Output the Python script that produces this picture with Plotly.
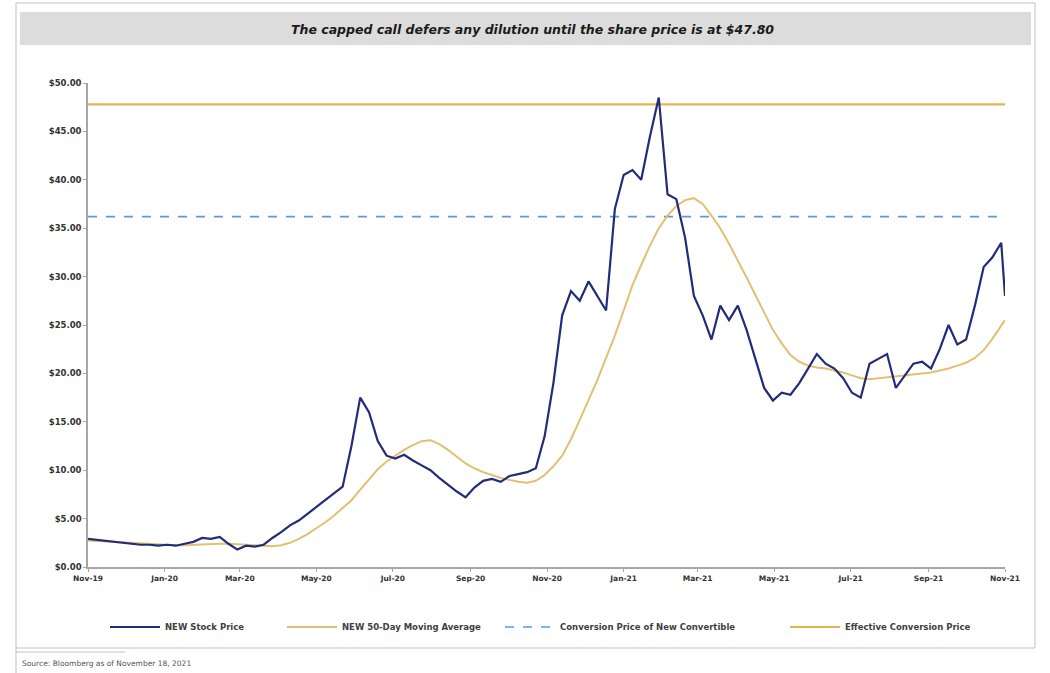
import pandas as pd
import plotly.graph_objects as go

# ---------------- data ----------------
week_dates = list(pd.date_range("2019-11-18", periods=105, freq="7D")) + [pd.Timestamp("2021-11-18")]

stock_price = [2.9, 2.8, 2.7, 2.6, 2.5, 2.4, 2.3, 2.3, 2.2, 2.3,
               2.2, 2.4, 2.6, 3.0, 2.9, 3.1, 2.4, 1.8, 2.2, 2.1,
               2.3, 3.0, 3.6, 4.3, 4.8, 5.5, 6.2, 6.9, 7.6, 8.3,
               12.5, 17.5, 16.0, 13.0, 11.5, 11.2, 11.6, 11.0, 10.5, 10.0,
               9.2, 8.5, 7.8, 7.2, 8.2, 8.9, 9.1, 8.8, 9.4, 9.6,
               9.8, 10.2, 13.5, 19.0, 26.0, 28.5, 27.5, 29.5, 28.0, 26.5,
               37.0, 40.5, 41.0, 40.0, 44.5, 48.5, 38.5, 38.0, 34.0, 28.0,
               26.0, 23.5, 27.0, 25.5, 27.0, 24.5, 21.5, 18.5, 17.2, 18.0,
               17.8, 19.0, 20.5, 22.0, 21.0, 20.5, 19.5, 18.0, 17.5, 21.0,
               21.5, 22.0, 18.5, 19.8, 21.0, 21.2, 20.5, 22.5, 25.0, 23.0,
               23.5, 27.0, 31.0, 32.0, 33.5, 28.0]

moving_avg_50d = [2.75, 2.7, 2.65, 2.6, 2.5, 2.45, 2.4, 2.35, 2.3, 2.3,
                  2.25, 2.25, 2.3, 2.35, 2.4, 2.4, 2.4, 2.35, 2.3, 2.2,
                  2.15, 2.15, 2.25, 2.5, 2.9, 3.4, 4.0, 4.6, 5.3, 6.1,
                  6.9, 8.0, 9.1, 10.1, 10.9, 11.5, 12.1, 12.6, 13.0, 13.1,
                  12.7, 12.1, 11.4, 10.7, 10.2, 9.8, 9.5, 9.2, 9.0, 8.8,
                  8.7, 8.9, 9.5, 10.4, 11.5, 13.2, 15.2, 17.2, 19.3, 21.6,
                  23.9, 26.5, 29.1, 31.2, 33.2, 35.0, 36.3, 37.3, 37.9, 38.1,
                  37.5, 36.3, 35.0, 33.4, 31.7, 29.9, 28.1, 26.3, 24.5, 23.1,
                  21.9, 21.2, 20.8, 20.6, 20.5, 20.3, 20.1, 19.8, 19.5, 19.4,
                  19.5, 19.6, 19.7, 19.8, 19.9, 20.0, 20.1, 20.3, 20.5, 20.8,
                  21.1, 21.6, 22.4, 23.6, 25.0, 25.5]

conversion_price = 36.2
effective_conversion_price = 47.8
line_span = ["2019-11-18", "2021-11-18"]

tick_dates = ["2019-11-18", "2020-01-18", "2020-03-18", "2020-05-18", "2020-07-18",
              "2020-09-18", "2020-11-18", "2021-01-18", "2021-03-18", "2021-05-18",
              "2021-07-18", "2021-09-18", "2021-11-18"]
tick_labels = ["Nov-19", "Jan-20", "Mar-20", "May-20", "Jul-20", "Sep-20", "Nov-20",
               "Jan-21", "Mar-21", "May-21", "Jul-21", "Sep-21", "Nov-21"]

title_text = "The capped call defers any dilution until the share price is at $47.80"
source_text = "Source: Bloomberg as of November 18, 2021"

# ---------------- layout geometry ----------------
W, H = 1050, 673
L, R, T, B = 88, 45, 83, 106
PW, PH = W - L - R, H - T - B


def px(x):
    return (x - L) / PW


def py(y):
    return (H - B - y) / PH


FONT = "DejaVu Sans"
NAVY = "#222C78"
GOLD_MA = "#E2C071"
GOLD_CAP = "#E3B550"
BLUE = "#5B9BD5"

fig = go.Figure()
fig.add_trace(go.Scatter(x=line_span, y=[effective_conversion_price] * 2, mode="lines",
                         line=dict(color=GOLD_CAP, width=2.2),
                         name="Effective Conversion Price", legend="legend4"))
fig.add_trace(go.Scatter(x=line_span, y=[conversion_price] * 2, mode="lines",
                         line=dict(color=BLUE, width=1.6, dash="dash"),
                         name="Conversion Price of New Convertible", legend="legend3"))
fig.add_trace(go.Scatter(x=week_dates, y=moving_avg_50d, mode="lines",
                         line=dict(color=GOLD_MA, width=2),
                         name="NEW 50-Day Moving Average", legend="legend2"))
fig.add_trace(go.Scatter(x=week_dates, y=stock_price, mode="lines",
                         line=dict(color=NAVY, width=2.2),
                         name="NEW Stock Price", legend="legend"))

leg_common = dict(orientation="h", yanchor="middle", xanchor="left",
                  bgcolor="rgba(0,0,0,0)", itemwidth=50,
                  font=dict(family=FONT, size=8.5, color="#404040", weight="bold"))
fig.update_layout(
    showlegend=True,
    legend=dict(x=px(105), y=py(627), **leg_common),
    legend2=dict(x=px(282), y=py(627), **leg_common),
    legend3=dict(x=px(500), y=py(627), **leg_common),
    legend4=dict(x=px(785), y=py(627), **leg_common),
)

fig.update_layout(
    width=W, height=H,
    margin=dict(l=L, r=R, t=T, b=B),
    paper_bgcolor="white", plot_bgcolor="white",
    font=dict(family=FONT, color="#333333"),
    xaxis=dict(type="date", range=["2019-11-18", "2021-11-18"],
               tickvals=tick_dates, ticktext=tick_labels,
               tickfont=dict(family=FONT, size=7.5, color="#333333", weight="bold"),
               showgrid=False, zeroline=False, showline=True,
               linecolor="#A6A6A6", linewidth=1.5,
               ticks="outside", ticklen=3, tickcolor="#A6A6A6"),
    yaxis=dict(range=[0, 50], dtick=5, tickprefix="$", tickformat=".2f",
               tickfont=dict(family=FONT, size=8.5, color="#333333", weight="bold"),
               showgrid=False, zeroline=False, showline=True,
               linecolor="#A6A6A6", linewidth=1.5,
               ticks="outside", ticklen=3, tickcolor="#A6A6A6"),
)

shapes = [
    # outer frame
    dict(type="rect", xref="paper", yref="paper",
         x0=px(16), x1=px(1035), y0=py(648), y1=py(3),
         line=dict(color="#BFBFBF", width=1), fillcolor="rgba(0,0,0,0)", layer="below"),
    # title band
    dict(type="rect", xref="paper", yref="paper",
         x0=px(20), x1=px(1031), y0=py(45), y1=py(12),
         line=dict(width=0), fillcolor="#DCDCDC", layer="below"),
    # footnote separator
    dict(type="line", xref="paper", yref="paper",
         x0=px(16), x1=px(125), y0=py(652), y1=py(652),
         line=dict(color="#BFBFBF", width=1)),
    dict(type="line", xref="paper", yref="paper",
         x0=px(16), x1=px(16), y0=py(648), y1=py(673),
         line=dict(color="#BFBFBF", width=1)),
]
fig.update_layout(shapes=shapes)

fig.add_annotation(text="<b><i>" + title_text + "</i></b>", xref="paper", yref="paper",
                   x=px(532), y=py(29), xanchor="center", yanchor="middle",
                   showarrow=False, font=dict(family=FONT, size=12.5, color="#1A1A1A"))
fig.add_annotation(text=source_text, xref="paper", yref="paper",
                   x=px(20), y=py(663), xanchor="left", yanchor="middle",
                   showarrow=False, font=dict(family=FONT, size=7.5, color="#555555"))

fig.write_html("out.html")
